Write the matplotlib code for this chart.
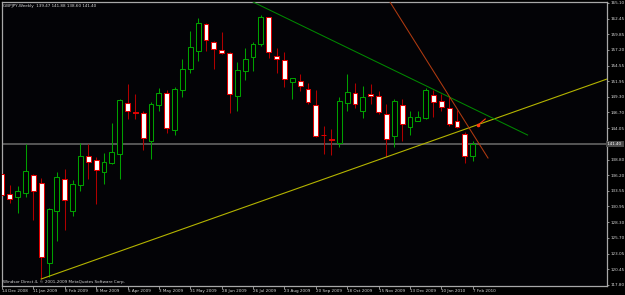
import matplotlib
matplotlib.use('Agg')
import matplotlib.pyplot as plt
import numpy as np

# Weekly GBPJPY candles (14 Dec 2008 .. 7 Feb 2010)
opens = [136.39, 133.04, 132.58, 133.20, 136.22, 134.88, 121.47, 130.19, 135.55, 130.19,
         134.54, 139.40, 138.73, 136.72, 138.23, 139.74, 148.29, 146.78, 146.61, 141.92,
         147.95, 149.96, 143.76, 150.47, 153.99, 157.00, 161.53, 158.51, 157.17, 156.67,
         149.46, 153.65, 156.00, 158.18, 162.70, 156.16, 155.49, 151.81, 151.98, 150.63,
         147.95, 142.95, 142.25, 141.58, 148.29, 149.96, 146.95, 149.80, 149.46, 146.44,
         142.76, 147.95, 144.27, 145.27, 145.77, 149.63, 148.62, 147.45, 145.27, 143.09,
         139.47]
highs = [139.24, 134.54, 134.38, 141.42, 136.39, 135.72, 130.69, 136.72, 137.23, 135.38,
         141.58, 141.42, 139.24, 139.91, 144.94, 148.95, 151.47, 149.80, 146.95, 148.45,
         150.80, 150.47, 150.97, 155.66, 160.35, 162.53, 161.70, 158.68, 160.19, 156.84,
         155.16, 157.51, 158.51, 163.04, 162.78, 157.51, 156.84, 152.55, 153.15, 151.64,
         150.47, 144.43, 143.93, 149.29, 153.15, 151.64, 151.14, 151.47, 150.30, 148.12,
         148.96, 148.96, 146.95, 146.95, 150.80, 150.47, 149.80, 149.29, 147.11, 143.43,
         141.88]
lows = [132.37, 131.53, 129.85, 132.53, 128.68, 118.79, 119.12, 125.16, 127.00, 129.35,
        133.54, 135.55, 131.36, 134.71, 138.10, 135.55, 145.61, 145.61, 140.41, 138.90,
        146.95, 143.26, 142.92, 149.29, 153.32, 155.33, 157.00, 153.99, 156.50, 146.61,
        146.95, 152.14, 153.65, 157.84, 155.83, 153.32, 150.97, 148.96, 150.30, 148.12,
        142.59, 139.74, 139.57, 140.91, 146.95, 147.45, 145.77, 148.12, 146.44, 139.24,
        140.91, 141.92, 142.92, 145.20, 145.61, 145.94, 146.95, 144.43, 144.10, 138.23,
        138.60]
closes = [132.87, 132.20, 133.59, 136.89, 133.54, 122.48, 130.52, 135.89, 132.03, 134.71,
          139.40, 138.40, 137.06, 138.40, 140.08, 148.79, 146.95, 146.61, 142.42, 148.12,
          149.96, 144.10, 150.63, 153.99, 157.67, 161.70, 158.85, 157.34, 156.67, 149.80,
          153.82, 155.66, 158.18, 162.70, 156.84, 155.66, 152.31, 152.48, 151.14, 148.45,
          142.76, 142.90, 142.09, 148.62, 150.13, 148.12, 149.29, 149.46, 146.78, 142.25,
          148.62, 144.77, 145.94, 145.94, 150.47, 148.45, 147.62, 144.77, 144.27, 139.40,
          141.40]

date_labels = ['14 Dec 2008', '11 Jan 2009', '8 Feb 2009', '8 Mar 2009', '5 Apr 2009',
               '3 May 2009', '31 May 2009', '28 Jun 2009', '26 Jul 2009', '23 Aug 2009',
               '20 Sep 2009', '18 Oct 2009', '15 Nov 2009', '13 Dec 2009', '10 Jan 2010',
               '7 Feb 2010']
price_ticks = [165.10, 162.45, 159.85, 157.20, 154.55, 151.95, 149.30, 146.70, 144.05,
               138.80, 136.20, 133.55, 130.95, 128.30, 125.70, 123.05, 120.45, 117.80]
last_price = 141.40

# trendline anchors (candle index, price)
yellow_x = [5, 49]
yellow_y = [118.79, 139.24]
green_x = [32.0, 67.0]
green_y = [165.22, 142.92]
red_x = [49.46, 61.95]
red_y = [165.22, 139.07]
arrow_x = [60.7, 61.6]
arrow_y = [144.60, 145.61]

title = 'GBPJPY,Weekly  139.47 141.88 138.60 141.40'
footer = 'Windsor Direct 4, \u00a9 2001-2009 MetaQuotes Software Corp.'

W, H = 625, 295
fig = plt.figure(figsize=(W / 100, H / 100), dpi=100, facecolor='#000000')
ax = fig.add_axes([2 / W, (H - 285.5) / H, (606.5 - 2) / W, (285.5 - 2) / H])
ax.set_facecolor('#030306')

xmax = (606.5 - 2) / 7.845
ax.set_xlim(0, xmax)
ax.set_ylim(117.70, 165.22)

n = len(opens)
x = np.arange(n)
o = np.array(opens); h = np.array(highs); l = np.array(lows); c = np.array(closes)
bull = c >= o

# bid line
ax.axhline(last_price, color='#5c5c5c', lw=1.3, zorder=1)

bull_col = '#00a000'
bear_edge = '#e00000'
bear_wick = '#b00000'
wick_cols = [bull_col if b else bear_wick for b in bull]
ax.vlines(x, l, h, colors=wick_cols, lw=0.75, zorder=2)
bottoms = np.minimum(o, c)
heights = np.maximum(np.abs(c - o), 0.05)
ax.bar(x, heights, bottom=bottoms, width=0.62,
       color=['#000000' if b else '#ffffff' for b in bull],
       edgecolor=[bull_col if b else bear_edge for b in bull],
       linewidth=0.75, zorder=3)

# trendlines
sl = (yellow_y[1] - yellow_y[0]) / (yellow_x[1] - yellow_x[0])
yx = np.array([yellow_x[0], xmax + 1])
ax.plot(yx, yellow_y[0] + sl * (yx - yellow_x[0]), color='#b4b400', lw=0.8, zorder=4)
ax.plot(green_x, green_y, color='#008800', lw=0.75, zorder=4)
ax.plot(red_x, red_y, color='#b03a10', lw=0.75, zorder=4)
ax.plot(arrow_x, arrow_y, color='#ff3a10', lw=0.8, zorder=5)
ax.plot(arrow_x[:1], arrow_y[:1], 'o', color='#ff3a10', ms=1.6, zorder=5)

# spines
for s in ax.spines.values():
    s.set_color('#a8a8a8')
    s.set_linewidth(0.9)

fs = 3.0
tc = '#d8d8d8'
ax.yaxis.tick_right()
ax.set_yticks(price_ticks)
ax.set_yticklabels(['%.2f' % p for p in price_ticks])
ax.tick_params(axis='y', colors='#a8a8a8', labelcolor=tc, labelsize=fs, length=1.5,
               width=0.6, pad=1.2, direction='out')
ax.set_xticks(np.arange(0, n, 4))
ax.set_xticklabels(date_labels, ha='left')
ax.tick_params(axis='x', colors='#a8a8a8', labelcolor=tc, labelsize=fs, length=1.8,
               width=0.6, pad=0.8, direction='out')

# current price box
ax.text(1.0, last_price, ' %.2f ' % last_price, transform=ax.get_yaxis_transform(),
        ha='left', va='center', fontsize=fs, color='#ffffff',
        bbox=dict(boxstyle='square,pad=0.15', fc='#4a4a4a', ec='none'), clip_on=False)

fig.text(3.3 / W, 1 - 5.5 / H, title, fontsize=fs, color=tc, ha='left', va='center')
fig.text(3.3 / W, 1 - 282.3 / H, footer, fontsize=fs, color=tc, ha='left', va='center')

fig.savefig('out.png', dpi=100, facecolor='#000000')
